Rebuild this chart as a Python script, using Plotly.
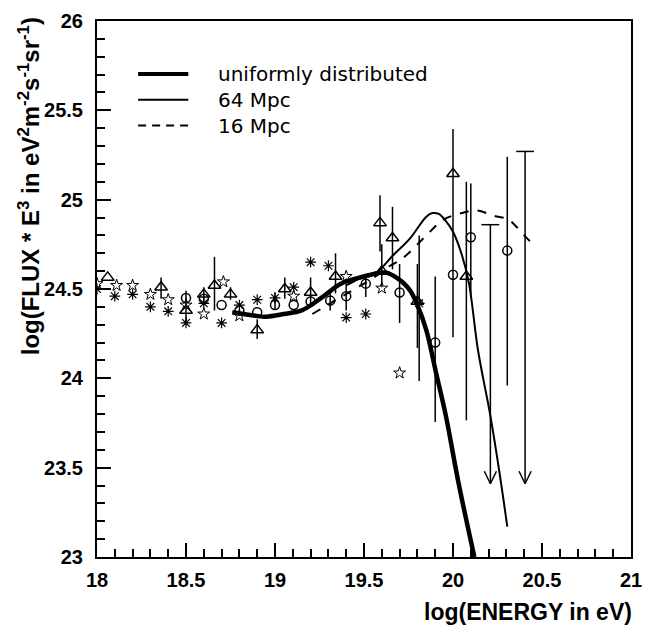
import plotly.graph_objects as go

# open triangles: x, y, lower end and upper end of the error bar
tri_x = [18.06, 18.36, 18.50, 18.60, 18.66, 18.75, 18.90, 19.055, 19.20, 19.34, 19.59, 19.60, 19.66, 19.80, 20.00, 20.075]
tri_y = [24.565, 24.51, 24.38, 24.47, 24.52, 24.47, 24.27, 24.50, 24.48, 24.57, 24.87, 24.60, 24.785, 24.43, 25.145, 24.57]
tri_lo = [24.565, 24.445, 24.30, 24.41, 24.38, 24.44, 24.22, 24.445, 24.41, 24.475, 24.71, 24.51, 24.61, 24.17, 24.90, 23.765]
tri_hi = [24.565, 24.565, 24.49, 24.51, 24.68, 24.51, 24.33, 24.565, 24.565, 24.70, 25.025, 24.75, 24.96, 24.64, 25.395, 25.10]

# open circles
cir_x = [18.50, 18.60, 18.70, 18.80, 18.90, 19.00, 19.105, 19.20, 19.31, 19.40, 19.51, 19.70, 19.90, 20.00, 20.10, 20.305]
cir_y = [24.45, 24.445, 24.41, 24.38, 24.37, 24.41, 24.41, 24.43, 24.435, 24.46, 24.53, 24.48, 24.20, 24.58, 24.79, 24.715]
cir_lo = [24.45, 24.445, 24.41, 24.38, 24.37, 24.39, 24.41, 24.43, 24.38, 24.38, 24.455, 24.31, 23.755, 24.23, 24.455, 23.96]
cir_hi = [24.45, 24.445, 24.41, 24.38, 24.37, 24.48, 24.41, 24.43, 24.49, 24.53, 24.57, 24.64, 24.57, 24.90, 25.09, 25.24]

# open stars
star_x = [18.00, 18.11, 18.20, 18.30, 18.40, 18.50, 18.60, 18.71, 18.80, 19.105, 19.40, 19.60, 19.70]
star_y = [24.53, 24.52, 24.52, 24.47, 24.44, 24.41, 24.36, 24.54, 24.35, 24.46, 24.57, 24.505, 24.03]

# asterisks
ast_x = [18.00, 18.10, 18.20, 18.30, 18.40, 18.50, 18.60, 18.70, 18.80, 18.90, 19.00, 19.105, 19.20, 19.30, 19.40, 19.51, 19.81]
ast_y = [24.50, 24.46, 24.47, 24.40, 24.375, 24.31, 24.42, 24.31, 24.41, 24.44, 24.45, 24.51, 24.65, 24.63, 24.34, 24.36, 24.42]
ast_lo = [24.50, 24.46, 24.47, 24.40, 24.375, 24.31, 24.42, 24.31, 24.41, 24.44, 24.45, 24.51, 24.65, 24.63, 24.34, 24.36, 23.985]
ast_hi = [24.50, 24.46, 24.47, 24.40, 24.375, 24.31, 24.42, 24.31, 24.41, 24.44, 24.45, 24.51, 24.65, 24.63, 24.34, 24.36, 24.80]

# upper limits (bar top and arrow tip)
ul_x = [20.21, 20.405]
ul_y = [24.86, 25.27]
ul_tip = [23.41, 23.41]

# model curves
uni_x = [18.76, 18.89, 18.95, 19.05, 19.15, 19.26, 19.37, 19.50, 19.58, 19.63, 19.68, 19.72, 19.76, 19.80, 19.85, 19.905, 19.96, 20.03, 20.12]
uni_y = [24.37, 24.35, 24.345, 24.36, 24.38, 24.45, 24.53, 24.57, 24.59, 24.59, 24.565, 24.535, 24.49, 24.41, 24.27, 24.03, 23.79, 23.42, 23.00]
m64_x = [19.40, 19.48, 19.555, 19.665, 19.76, 19.85, 19.885, 19.92, 19.96, 20.00, 20.05, 20.09, 20.14, 20.21, 20.26, 20.305]
m64_y = [24.52, 24.56, 24.58, 24.69, 24.785, 24.905, 24.925, 24.92, 24.88, 24.82, 24.69, 24.53, 24.16, 23.79, 23.48, 23.17]
m16_x = [19.21, 19.43, 19.55, 19.63, 19.70, 19.75, 19.85, 19.95, 20.05, 20.13, 20.23, 20.31, 20.355, 20.40, 20.46]
m16_y = [24.36, 24.49, 24.56, 24.62, 24.66, 24.70, 24.80, 24.89, 24.925, 24.94, 24.91, 24.89, 24.85, 24.80, 24.74]

legend_names = ["uniformly distributed", "64 Mpc", "16 Mpc"]

fig = go.Figure()


def errors(y, lo, hi):
    return dict(type="data", symmetric=False,
                array=[h - v for v, h in zip(y, hi)],
                arrayminus=[v - l for v, l in zip(y, lo)],
                width=0, thickness=1.5, color="black")


fig.add_trace(go.Scatter(x=uni_x, y=uni_y, mode="lines", line=dict(color="black", width=4.5, shape="spline")))
fig.add_trace(go.Scatter(x=m64_x, y=m64_y, mode="lines", line=dict(color="black", width=2, shape="spline")))
fig.add_trace(go.Scatter(x=m16_x, y=m16_y, mode="lines", line=dict(color="black", width=2, dash="9px,9px", shape="spline")))

fig.add_trace(go.Scatter(x=tri_x, y=tri_y, mode="markers", error_y=errors(tri_y, tri_lo, tri_hi),
                         marker=dict(symbol="triangle-up-open", size=11, color="black", line=dict(width=1.5))))
fig.add_trace(go.Scatter(x=cir_x, y=cir_y, mode="markers", error_y=errors(cir_y, cir_lo, cir_hi),
                         marker=dict(symbol="circle-open", size=9, color="black", line=dict(width=1.5))))
fig.add_trace(go.Scatter(x=star_x, y=star_y, mode="markers",
                         marker=dict(symbol="star-open", size=9, color="black", line=dict(width=1))))
fig.add_trace(go.Scatter(x=ast_x, y=ast_y, mode="markers", error_y=errors(ast_y, ast_lo, ast_hi),
                         marker=dict(symbol="asterisk-open", size=9, color="black", line=dict(width=1.2))))

# upper limits: bar, cap and open arrow head built from the data
ux, uy = [], []
cap, hx, hy = 0.05, 0.034, 0.07
for x, top, tip in zip(ul_x, ul_y, ul_tip):
    ux += [x, x, None, x - cap, x + cap, None, x - hx, x, x + hx, None]
    uy += [top, tip, None, top, top, None, tip + hy, tip, tip + hy, None]
fig.add_trace(go.Scatter(x=ux, y=uy, mode="lines", line=dict(color="black", width=1.5)))

# hand drawn legend
for i, (name, w, dash) in enumerate(zip(legend_names, [4, 2, 2], ["solid", "solid", "8px,6px"])):
    yy = 0.901 - i * 0.048
    fig.add_shape(type="line", xref="paper", yref="paper", x0=0.077, x1=0.171, y0=yy, y1=yy,
                  line=dict(color="black", width=w, dash=dash))
    fig.add_annotation(xref="paper", yref="paper", x=0.222, y=yy, text=name, showarrow=False,
                       xanchor="left", yanchor="middle",
                       font=dict(family="DejaVu Sans", size=20, color="black"))

fig.add_annotation(xref="paper", yref="paper", x=1.005, y=-0.103, text="log(ENERGY in eV)",
                   showarrow=False, xanchor="right", yanchor="middle",
                   font=dict(family="Liberation Sans", size=23, color="black", weight="bold"))
fig.add_annotation(xref="paper", yref="paper", x=-0.127, y=1.011,
                   text="log(FLUX * E<sup>3</sup> in eV<sup>2</sup>m<sup>-2</sup>s<sup>-1</sup>sr<sup>-1</sup>)",
                   textangle=-90, showarrow=False, xanchor="center", yanchor="top",
                   font=dict(family="Liberation Sans", size=24, color="black", weight="bold"))

axis = dict(showline=True, linecolor="black", linewidth=2, mirror=True, ticks="inside",
            ticklen=14, tickwidth=1.5, tickcolor="black", dtick=0.5, showgrid=False, zeroline=False,
            minor=dict(dtick=0.1, ticks="inside", ticklen=8, tickwidth=1.5, tickcolor="black"),
            tickfont=dict(family="Liberation Sans", size=20, color="black", weight="bold"))
fig.update_xaxes(range=[18, 21], tick0=18, ticklabelstandoff=4, **axis)
fig.update_yaxes(range=[23, 26], tick0=23, ticklabelstandoff=8, **axis)

fig.update_layout(width=652, height=628, showlegend=False, plot_bgcolor="white", paper_bgcolor="white",
                  margin=dict(l=97, r=10, t=14, b=71))

fig.write_html("out.html", config={"displayModeBar": False},
               post_script="document.body.style.margin='0';")
